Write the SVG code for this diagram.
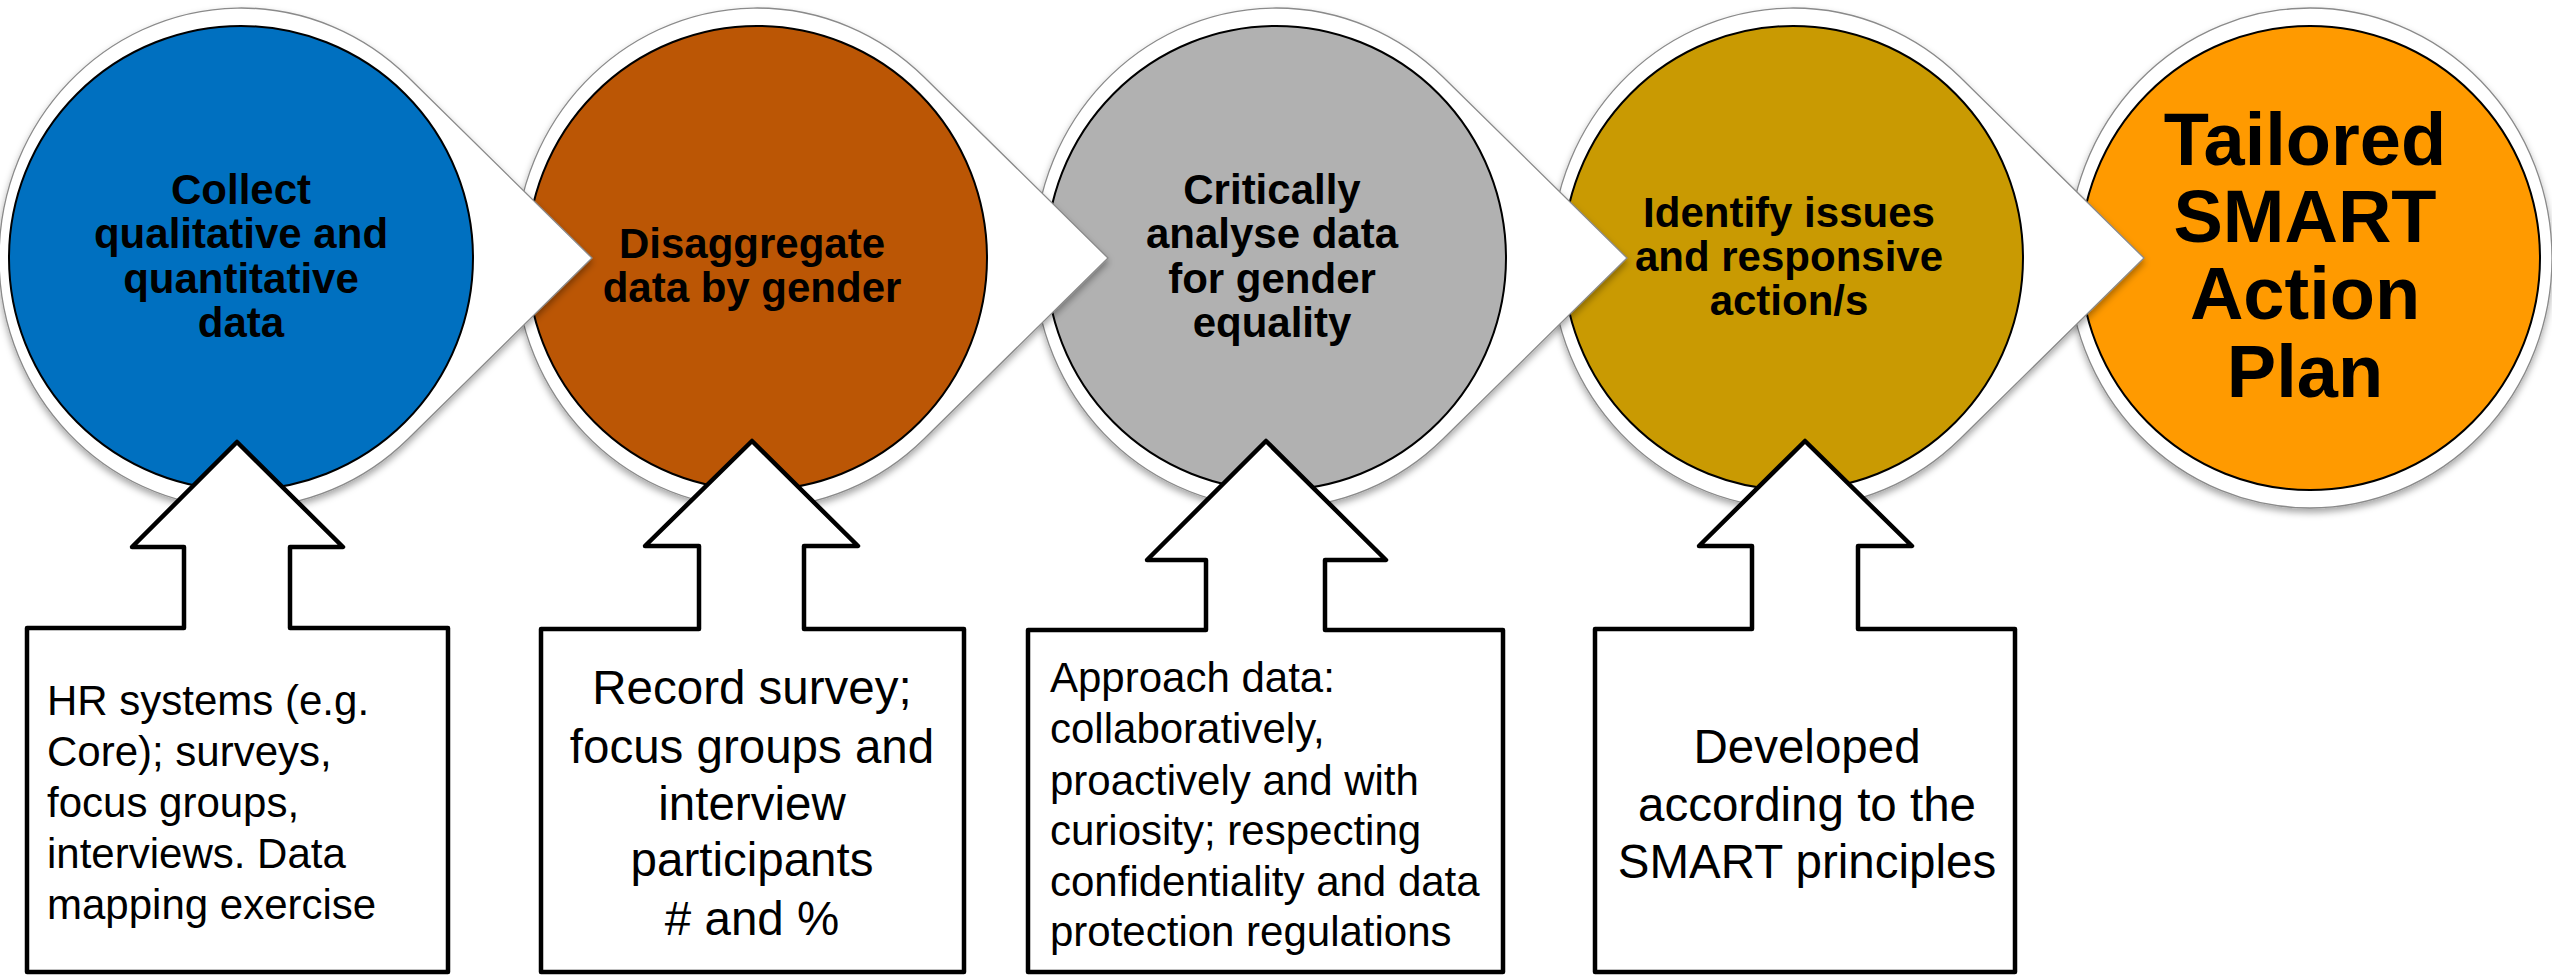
<svg xmlns="http://www.w3.org/2000/svg" width="2552" height="977" viewBox="0 0 2552 977">
<style>
.outer{fill:#fff;stroke:#8a8a8a;stroke-width:1.3;filter:url(#sh)}
.disc{stroke:#000;stroke-width:2}
.t{font-family:"Liberation Sans",Arial,sans-serif;font-weight:bold;font-size:42px;fill:#000;text-anchor:middle}
.big{font-size:74px}
.call{fill:#fff;stroke:#000;stroke-width:4.5;stroke-linejoin:round}
.b{font-family:"Liberation Sans",Arial,sans-serif;font-size:42px;fill:#000}
.bc{font-size:47.5px;text-anchor:middle}
</style>
<defs>
<filter id="sh" x="-10%" y="-10%" width="120%" height="125%">
<feDropShadow dx="0" dy="4" stdDeviation="3.5" flood-color="#000" flood-opacity="0.35"/>
</filter>
</defs>
<g id="node5">
<ellipse class="outer" cx="2310" cy="258" rx="242" ry="250"/>
<ellipse class="disc" cx="2310" cy="258" rx="230" ry="232" fill="#FF9A00"/>
<text class="t big"><tspan x="2305" y="165">Tailored</tspan><tspan x="2305" y="242">SMART</tspan><tspan x="2305" y="319">Action</tspan><tspan x="2305" y="397">Plan</tspan></text>
</g>
<g id="node4">
<path class="outer" d="M2144,258 L1960,77 A242,250 0 1 0 1960,439 Z"/>
<ellipse class="disc" cx="1793" cy="258" rx="230" ry="232" fill="#C99A02"/>
<text class="t"><tspan x="1789" y="227">Identify issues</tspan><tspan x="1789" y="271">and responsive</tspan><tspan x="1789" y="315">action/s</tspan></text>
</g>
<g id="node3">
<path class="outer" d="M1627,258 L1443,77 A242,250 0 1 0 1443,439 Z"/>
<ellipse class="disc" cx="1276" cy="258" rx="230" ry="232" fill="#B1B1B1"/>
<text class="t"><tspan x="1272" y="204">Critically</tspan><tspan x="1272" y="248">analyse data</tspan><tspan x="1272" y="293">for gender</tspan><tspan x="1272" y="337">equality</tspan></text>
</g>
<g id="node2">
<path class="outer" d="M1108,258 L924,77 A242,250 0 1 0 924,439 Z"/>
<ellipse class="disc" cx="757" cy="258" rx="230" ry="232" fill="#BB5605"/>
<text class="t"><tspan x="752" y="258">Disaggregate</tspan><tspan x="752" y="302">data by gender</tspan></text>
</g>
<g id="node1">
<path class="outer" d="M592,258 L408,77 A242,250 0 1 0 408,439 Z"/>
<ellipse class="disc" cx="241" cy="258" rx="232" ry="232" fill="#0070C0"/>
<text class="t"><tspan x="241" y="204">Collect</tspan><tspan x="241" y="248">qualitative and</tspan><tspan x="241" y="293">quantitative</tspan><tspan x="241" y="337">data</tspan></text>
</g>
<g id="connectors"></g>
<g id="box1">
<path class="call" d="M27,972 L27,628 L184,628 L184,547 L132,547 L237,442 L343,547 L290,547 L290,628 L448,628 L448,972 Z"/>
<text class="b"><tspan x="47" y="715">HR systems (e.g.</tspan><tspan x="47" y="766">Core); surveys,</tspan><tspan x="47" y="817">focus groups,</tspan><tspan x="47" y="868">interviews. Data</tspan><tspan x="47" y="919">mapping exercise</tspan></text>
</g>
<g id="box2">
<path class="call" d="M541,972 L541,629 L699,629 L699,546 L645,546 L752,441 L858,546 L804,546 L804,629 L964,629 L964,972 Z"/>
<text class="b bc"><tspan x="752" y="704">Record survey;</tspan><tspan x="752" y="763">focus groups and</tspan><tspan x="752" y="820">interview</tspan><tspan x="752" y="876">participants</tspan><tspan x="752" y="935"># and %</tspan></text>
</g>
<g id="box3">
<path class="call" d="M1028,972 L1028,630 L1206,630 L1206,560 L1147,560 L1266,441 L1386,560 L1325,560 L1325,630 L1503,630 L1503,972 Z"/>
<text class="b"><tspan x="1050" y="692">Approach data:</tspan><tspan x="1050" y="743">collaboratively,</tspan><tspan x="1050" y="795">proactively and with</tspan><tspan x="1050" y="845">curiosity; respecting</tspan><tspan x="1050" y="896">confidentiality and data</tspan><tspan x="1050" y="946">protection regulations</tspan></text>
</g>
<g id="box4">
<path class="call" d="M1595,972 L1595,629 L1752,629 L1752,546 L1699,546 L1805,441 L1912,546 L1858,546 L1858,629 L2015,629 L2015,972 Z"/>
<text class="b bc"><tspan x="1807" y="763">Developed</tspan><tspan x="1807" y="821">according to the</tspan><tspan x="1807" y="878">SMART principles</tspan></text>
</g>
</svg>
